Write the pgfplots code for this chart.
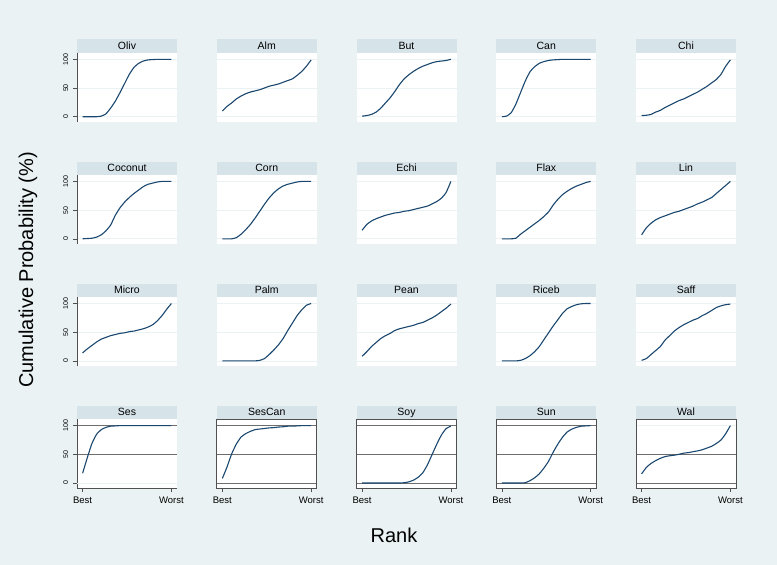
\documentclass[border=0pt]{standalone}
\usepackage{graphicx}
\usepackage{pgfplots}
\pgfplotsset{compat=1.18}
\usepackage{fontspec}
\setmainfont{Liberation Sans}
\definecolor{bg}{RGB}{234,242,243}
\definecolor{strip}{RGB}{214,227,233}
\definecolor{lgrid}{RGB}{234,242,243}
\definecolor{navy}{RGB}{26,71,111}
\definecolor{axcol}{RGB}{80,80,80}
\definecolor{dgrid}{RGB}{110,110,110}
\newcommand{\rl}[1]{\rotatebox{90}{#1}}
\tikzset{stripnode/.style={anchor=south, fill=strip, minimum width=100pt, minimum height=13.3pt, inner sep=0pt, text height=7.5pt, text depth=1pt, font=\fontsize{10.5}{12}\selectfont}}
\pgfplotsset{
 panel/.style={scale only axis, width=100pt, height=69pt,
  xmin=-0.2, xmax=21.2, ymin=-9.2, ymax=111,
  axis background/.style={fill=white},
  axis x line*=bottom, axis y line*=left,
  x axis line style={draw=none, -}, y axis line style={draw=none, -},
  xtick=\empty, ytick={0,50,100}, yticklabels={},
  tick align=outside, major tick length=4pt,
  ytick style={draw=none}, xtick style={draw=axcol, line width=0.6pt},
  ymajorgrids, grid style={color=lgrid, line width=0.8pt},
  clip mode=individual,
  /pgf/number format/assume math mode=true},
 firstcol/.style={y axis line style={draw=axcol, line width=0.6pt},
  ytick style={draw=axcol, line width=0.6pt},
  yticklabels={\rl{0},\rl{50},\rl{100}},
  yticklabel style={anchor=east, inner ysep=0pt, inner xsep=4.5pt, font=\fontsize{7}{8}\selectfont, text=black}},
 lastrow/.style={xtick={1,20}, xticklabels={Best,Worst},
  x axis line style={draw=axcol, line width=0.6pt},
  xticklabel style={font=\fontsize{9.5}{10}\selectfont, text=black, yshift=-1.5pt},
  grid style={color=dgrid, line width=0.8pt}},
 boxed/.style={extra description/.code={\draw[axcol, line width=0.6pt] (rel axis cs:0,0) rectangle (rel axis cs:1,1);}}
}
\newcommand{\panel}[5]{%
 \begin{axis}[panel, at={(#1pt,#2pt)}, anchor=south west, #4]
 \addplot[navy, line width=1.1pt, mark=none, smooth, tension=0.3] coordinates {#5};
 \node[stripnode] at (rel axis cs:0.5,1) {#3};
 \end{axis}}
\begin{document}
\begin{tikzpicture}
\path[use as bounding box, fill=bg] (0pt,0pt) rectangle (777pt,565pt);
% Row 1
\panel{77}{443}{Oliv}{firstcol}{(1,0)(2,0)(3,0)(4,0)(5,1)(6,5)(7,15)(8,27)(9,42)(10,58)(11,74)(12,86)(13,93)(14,97)(15,99)(16,99.5)(17,100)(18,100)(19,100)(20,100)}
\panel{216.75}{443}{Alm}{}{(1,10)(2,18)(3,24)(4,31)(5,36)(6,40)(7,43)(8,45)(9,47)(10,50)(11,53)(12,55)(13,57)(14,60)(15,63)(16,66)(17,72)(18,79)(19,88)(20,99)}
\panel{356.5}{443}{But}{}{(1,1)(2,2)(3,4)(4,8)(5,15)(6,24)(7,33)(8,44)(9,56)(10,66)(11,73)(12,79)(13,84)(14,88)(15,91)(16,94)(17,96)(18,97)(19,98)(20,100)}
\panel{496.25}{443}{Can}{}{(1,0)(2,1)(3,7)(4,22)(5,42)(6,62)(7,78)(8,87)(9,93)(10,96)(11,98)(12,99)(13,99.5)(14,100)(15,100)(16,100)(17,100)(18,100)(19,100)(20,100)}
\panel{636}{443}{Chi}{}{(1,2)(2,2.5)(3,4)(4,8)(5,11)(6,16)(7,20)(8,24)(9,28)(10,31)(11,35)(12,39)(13,43)(14,48)(15,53)(16,59)(17,65)(18,74)(19,88)(20,99)}
% Row 2
\panel{77}{320.9}{Coconut}{firstcol}{(1,0)(2,0.5)(3,1)(4,3)(5,7)(6,14)(7,24)(8,41)(9,54)(10,64)(11,72)(12,79)(13,85)(14,91)(15,95)(16,97)(17,99)(18,100)(19,100)(20,100)}
\panel{216.75}{320.9}{Corn}{}{(1,0)(2,0)(3,0)(4,2)(5,8)(6,16)(7,25)(8,36)(9,48)(10,60)(11,71)(12,80)(13,87)(14,92)(15,95)(16,97)(17,99)(18,100)(19,100)(20,100)}
\panel{356.5}{320.9}{Echi}{}{(1,15)(2,25)(3,31)(4,35)(5,38)(6,41)(7,43)(8,45)(9,46)(10,48)(11,49)(12,51)(13,53)(14,55)(15,57)(16,61)(17,65)(18,71)(19,81)(20,100)}
\panel{496.25}{320.9}{Flax}{}{(1,0)(2,0)(3,0)(4,1)(5,8)(6,14)(7,20)(8,26)(9,32)(10,39)(11,47)(12,59)(13,69)(14,77)(15,83)(16,88)(17,92)(18,95)(19,98)(20,100)}
\panel{636}{320.9}{Lin}{}{(1,7)(2,19)(3,27)(4,33)(5,37)(6,40)(7,43)(8,46)(9,48)(10,51)(11,54)(12,57)(13,61)(14,64)(15,68)(16,72)(17,79)(18,86)(19,93)(20,100)}
% Row 3
\panel{77}{198.8}{Micro}{firstcol}{(1,14)(2,21)(3,27)(4,33)(5,38)(6,41)(7,44)(8,46)(9,48)(10,49)(11,51)(12,52)(13,54)(14,56)(15,59)(16,63)(17,70)(18,79)(19,90)(20,100)}
\panel{216.75}{198.8}{Palm}{}{(1,0)(2,0)(3,0)(4,0)(5,0)(6,0)(7,0)(8,0)(9,1)(10,4)(11,11)(12,19)(13,28)(14,39)(15,53)(16,66)(17,79)(18,89)(19,97)(20,100)}
\panel{356.5}{198.8}{Pean}{}{(1,8)(2,16)(3,25)(4,32)(5,39)(6,44)(7,48)(8,53)(9,56)(10,58)(11,60)(12,62)(13,65)(14,67)(15,71)(16,75)(17,80)(18,86)(19,92)(20,99)}
\panel{496.25}{198.8}{Riceb}{}{(1,0)(2,0)(3,0)(4,0)(5,1)(6,4)(7,9)(8,16)(9,25)(10,37)(11,49)(12,61)(13,72)(14,83)(15,91)(16,95)(17,98)(18,99.5)(19,100)(20,100)}
\panel{636}{198.8}{Saff}{}{(1,1)(2,4)(3,11)(4,18)(5,25)(6,36)(7,44)(8,52)(9,58)(10,63)(11,67)(12,71)(13,74)(14,79)(15,83)(16,88)(17,93)(18,96)(19,98)(20,99)}
% Row 4
\panel{77}{76.7}{Ses}{firstcol, lastrow, ytick={50,100}, yticklabels={\rl{50},\rl{100}}, extra y ticks={0}, extra y tick labels={\rl{0}}, extra y tick style={grid style={color=lgrid, line width=0.8pt}}}{(1,17)(2,44)(3,69)(4,85)(5,93)(6,97)(7,99)(8,99.5)(9,100)(10,100)(11,100)(12,100)(13,100)(14,100)(15,100)(16,100)(17,100)(18,100)(19,100)(20,100)}
\panel{216.75}{76.7}{SesCan}{lastrow, boxed}{(1,8)(2,28)(3,51)(4,68)(5,80)(6,86)(7,90)(8,93)(9,94)(10,95)(11,96)(12,96.5)(13,97.5)(14,98)(15,99)(16,99)(17,99.5)(18,100)(19,100)(20,100)}
\panel{356.5}{76.7}{Soy}{lastrow, boxed}{(1,0)(2,0)(3,0)(4,0)(5,0)(6,0)(7,0)(8,0)(9,0)(10,0.5)(11,2)(12,5)(13,10)(14,18)(15,32)(16,50)(17,68)(18,84)(19,95)(20,99)}
\panel{496.25}{76.7}{Sun}{lastrow, boxed}{(1,0)(2,0)(3,0)(4,0)(5,0)(6,0.5)(7,4)(8,9)(9,16)(10,26)(11,38)(12,54)(13,68)(14,80)(15,89)(16,94)(17,97)(18,99)(19,99.5)(20,100)}
\panel{636}{76.7}{Wal}{lastrow, boxed, ytick={0,50}, extra y ticks={100}, extra y tick labels={}, extra y tick style={grid style={color=lgrid, line width=0.8pt}}}{(1,16)(2,27)(3,34)(4,39)(5,43)(6,46)(7,47.5)(8,48.5)(9,50)(10,52)(11,53)(12,54.5)(13,56)(14,58)(15,61)(16,64)(17,69)(18,75)(19,86)(20,100)}
% axis titles
\node[rotate=90, font=\fontsize{20}{24}\selectfont] at (28pt,295pt) {Cumulative Probability (\%)};
\node[font=\fontsize{20}{24}\selectfont] at (394pt,30pt) {Rank};
\end{tikzpicture}
\end{document}
